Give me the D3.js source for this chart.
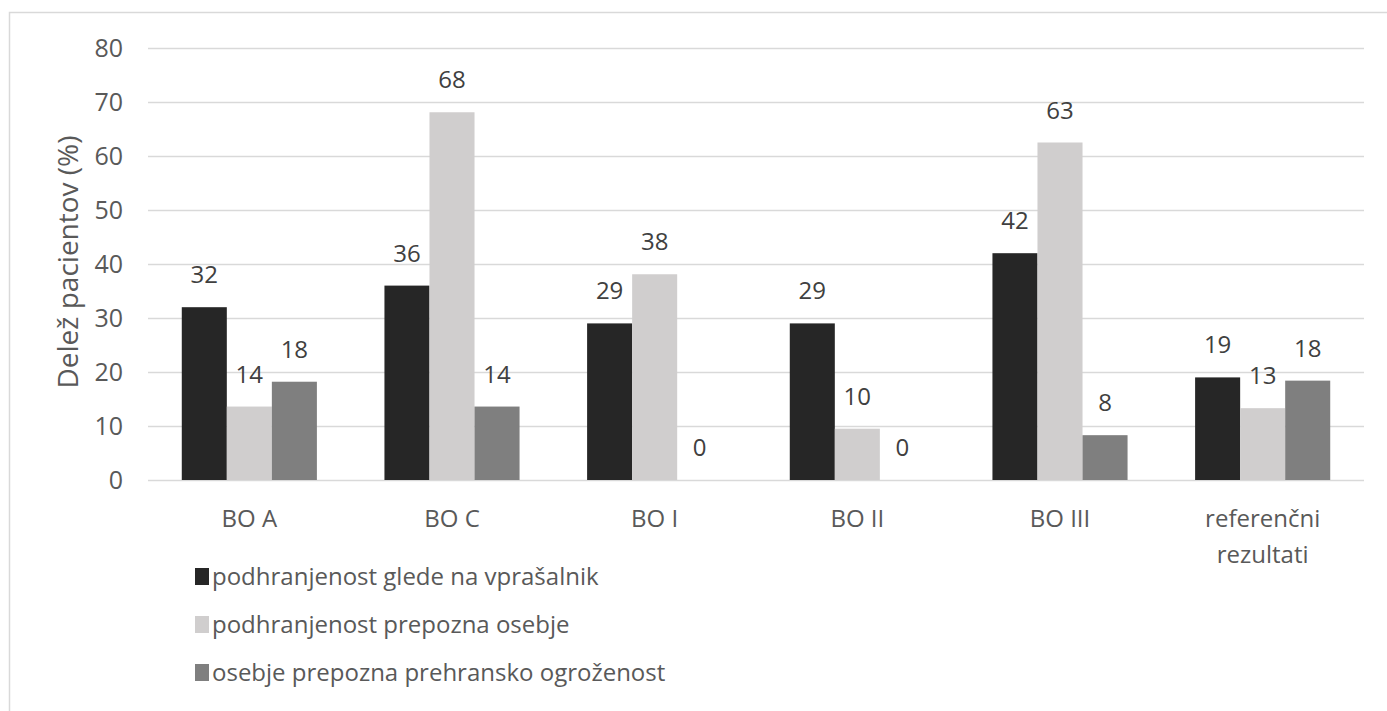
<!DOCTYPE html>
<html>
<head>
<meta charset="utf-8">
<script src="https://cdn.jsdelivr.net/npm/d3@7"></script>
<style>
  html, body { margin: 0; padding: 0; background: #fff; }
  svg { display: block; font-family: "Open Sans", "Noto Sans", sans-serif; }
</style>
</head>
<body>
<svg id="chart" width="1387" height="711"></svg>
<script>
const categories = [["BO A"], ["BO C"], ["BO I"], ["BO II"], ["BO III"], ["referenčni", "rezultati"]];
const seriesNames = [
  "podhranjenost glede na vprašalnik",
  "podhranjenost prepozna osebje",
  "osebje prepozna prehransko ogroženost"
];
const seriesColors = ["#262626", "#d0cece", "#7f7f7f"];
const vprasalnik = [32, 36, 29, 29, 42, 19];
const prepoznaOsebje = [13.6, 68.1, 38.1, 9.5, 62.5, 13.3];
const ogrozenost = [18.2, 13.6, 0, 0, 8.3, 18.4];
const yTicks = [0, 10, 20, 30, 40, 50, 60, 70, 80];

const series = [vprasalnik, prepoznaOsebje, ogrozenost];
const FONT = "'Open Sans', 'Noto Sans', sans-serif";

const svg = d3.select("#chart");

// chart border
svg.append("rect")
  .attr("x", 9.5).attr("y", 12.5)
  .attr("width", 1400).attr("height", 720)
  .attr("fill", "none").attr("stroke", "#d9d9d9").attr("stroke-width", 1.5);

const plot = { left: 148, right: 1364, top: 48, bottom: 480 };

const x0 = d3.scaleBand()
  .domain(d3.range(categories.length))
  .range([plot.left, plot.right])
  .paddingInner(1.5 / 4.5)
  .paddingOuter((1.5 / 4.5) / 2);
const x1 = d3.scaleBand()
  .domain(d3.range(series.length))
  .range([0, x0.bandwidth()]);

const y = d3.scaleLinear().domain([0, 80]).range([plot.bottom, plot.top]);

// gridlines + tick labels
const yAxis = d3.axisLeft(y).tickValues(yTicks)
  .tickSize(-(plot.right - plot.left)).tickPadding(25);
const gy = svg.append("g")
  .attr("transform", `translate(${plot.left},0)`)
  .call(yAxis);
gy.select(".domain").remove();
gy.selectAll(".tick line").attr("stroke", "#d9d9d9").attr("stroke-width", 1.5);
gy.selectAll(".tick text")
  .attr("fill", "#595959")
  .style("font-size", "25px")
  .style("font-family", FONT);

// bars
const groups = svg.append("g").selectAll("g")
  .data(categories.map((c, i) => i))
  .join("g")
  .attr("transform", i => `translate(${x0(i)},0)`);

groups.selectAll("rect")
  .data(i => series.map((s, k) => ({ k, v: s[i] })))
  .join("rect")
  .attr("x", d => x1(d.k))
  .attr("width", x1.bandwidth())
  .attr("y", d => y(d.v))
  .attr("height", d => y(0) - y(d.v))
  .attr("fill", d => seriesColors[d.k]);

// data labels
groups.selectAll("text")
  .data(i => series.map((s, k) => ({ k, v: s[i] })))
  .join("text")
  .attr("x", d => x1(d.k) + x1.bandwidth() / 2)
  .attr("y", d => y(d.v) - 24)
  .attr("text-anchor", "middle")
  .attr("fill", "#404040")
  .style("font-size", "24px")
  .text(d => Math.round(d.v));

// category labels
const xAxis = svg.append("g");
categories.forEach((lines, i) => {
  const cx = x0(i) + x0.bandwidth() / 2;
  const t = xAxis.append("text")
    .attr("text-anchor", "middle")
    .attr("fill", "#595959")
    .style("font-size", "24px");
  lines.forEach((ln, j) => {
    t.append("tspan")
      .attr("x", cx)
      .attr("y", 527 + j * 36)
      .text(ln);
  });
});

// y axis title
svg.append("text")
  .attr("transform", `translate(78,262) rotate(-90)`)
  .attr("text-anchor", "middle")
  .attr("fill", "#595959")
  .style("font-size", "28px")
  .text("Delež pacientov (%)");

// legend
const legend = svg.append("g");
seriesNames.forEach((name, k) => {
  const base = 585 + k * 48;
  legend.append("rect")
    .attr("x", 195).attr("y", base - 17)
    .attr("width", 14).attr("height", 17)
    .attr("fill", seriesColors[k]);
  legend.append("text")
    .attr("x", 212).attr("y", base)
    .attr("fill", "#595959")
    .style("font-size", "24px")
    .text(name);
});
</script>
</body>
</html>
